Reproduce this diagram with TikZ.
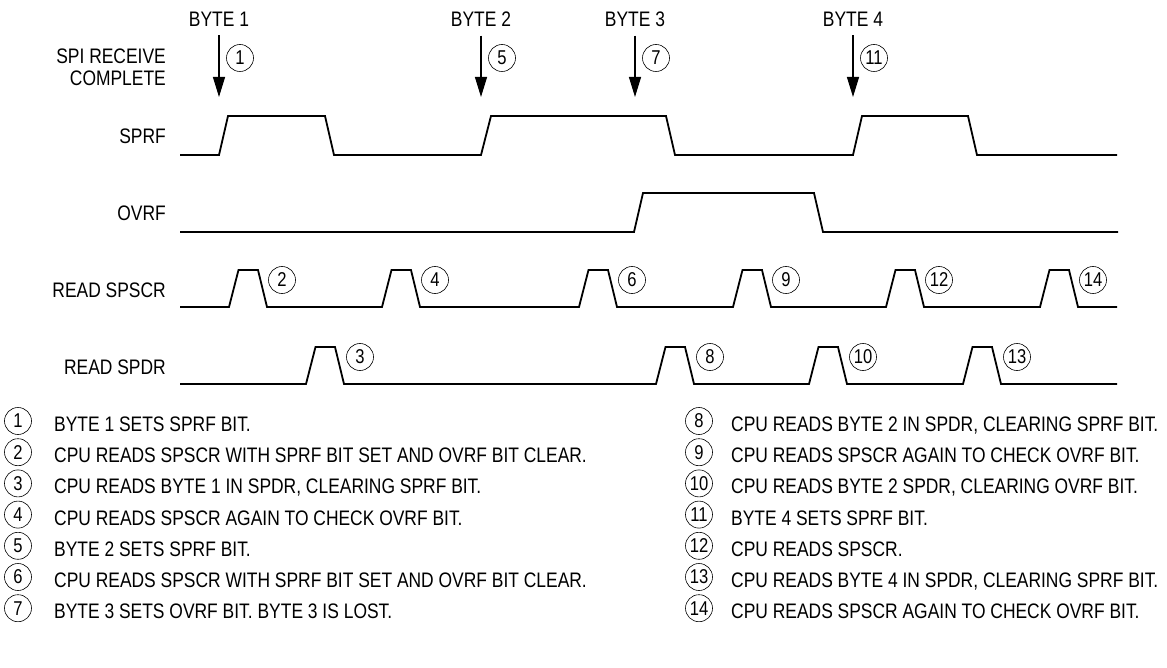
\documentclass[tikz,border=0pt]{standalone}
\usepackage{fontspec}
\setmainfont{Liberation Sans}
\newfontfamily\narrowfont[FakeStretch=0.83]{Liberation Sans}
\usetikzlibrary{arrows.meta}
\tikzset{
  sig/.style  = {line width=1.8pt, line join=miter},
  arr/.style  = {line width=1.2pt, -{Triangle[length=20pt,width=12pt]}, shorten <=9pt},
  num/.style  = {circle, draw, line width=0.6pt, minimum size=27pt, inner sep=0pt,
                 font=\narrowfont\fontsize{20}{22}\selectfont},
  lbl/.style  = {anchor=east, inner sep=0pt, align=right},
  note/.style = {anchor=base west, inner sep=0pt}
}

\begin{document}
\begin{tikzpicture}[x=1pt, y=-1pt, font=\narrowfont\fontsize{21}{22}\selectfont]
\useasboundingbox (0,0) rectangle (1167,668);
% row labels
\node[lbl] (spi)  at (166,67)  {SPI RECEIVE\\COMPLETE};
\node[lbl] (sprf) at (166,136) {SPRF};
\node[lbl] (ovrf) at (166,213) {OVRF};
\node[lbl] (rscr) at (166,290) {READ SPSCR};
\node[lbl] (rdr)  at (166,367) {READ SPDR};
% byte arrivals
\foreach \x/\b/\n in {219/1/1, 481/2/5, 635/3/7, 853/4/11}{
  \node[lbl, anchor=center] (byte\b) at (\x,19) {BYTE \b};
  \coordinate (tip\b) at (\x,97);
  \draw[arr] (byte\b.south) -- (tip\b);
  \node[num] (n\n) at (\x+21,58) {\n};
}
% waveforms
\draw[sig] (180,155) -- (219,155) -- (228,116) -- (325,116) -- (334,155) -- (481,155) -- (491,116)
  -- (666,116) -- (675,155) -- (853,155) -- (862,116) -- (968,116) -- (977,155) -- (1117,155);
\draw[sig] (180,232) -- (634,232) -- (643,193) -- (814,193) -- (823,232) -- (1118,232);
\draw[sig] (180,307) \foreach \x in {229,382,579,733,886,1040}{
  -- (\x,307) -- ++(9.5,-37) -- ++(19.5,0) -- ++(9,37)} -- (1117,307);
\draw[sig] (180,384) \foreach \x in {306,656,809,963}{
  -- (\x,384) -- ++(9.5,-37) -- ++(19.5,0) -- ++(9,37)} -- (1117,384);
\foreach \x/\n in {229/2, 382/4, 579/6, 733/9, 886/12, 1040/14}
  \node[num] (n\n) at (\x+53,280) {\n};
\foreach \x/\n in {306/3, 656/8, 809/10, 963/13}
  \node[num] (n\n) at (\x+54,357) {\n};
% legend, left column
\foreach \n/\t in {1/{BYTE 1 SETS SPRF BIT.},
                   2/{CPU READS SPSCR WITH SPRF BIT SET AND OVRF BIT CLEAR.},
                   3/{CPU READS BYTE 1 IN SPDR, CLEARING SPRF BIT.},
                   4/{CPU READS SPSCR AGAIN TO CHECK OVRF BIT.},
                   5/{BYTE 2 SETS SPRF BIT.},
                   6/{CPU READS SPSCR WITH SPRF BIT SET AND OVRF BIT CLEAR.},
                   7/{BYTE 3 SETS OVRF BIT. BYTE 3 IS LOST.}}{
  \node[num] (k\n) at (18,{421+31.2*(\n-1)}) {\n};
  \node[note] (t\n) at (54,{431.5+31.2*(\n-1)}) {\t};
}
% legend, right column
\foreach \n/\t in {8/{CPU READS BYTE 2 IN SPDR, CLEARING SPRF BIT.},
                   9/{CPU READS SPSCR AGAIN TO CHECK OVRF BIT.},
                   10/{CPU READS BYTE 2 SPDR, CLEARING OVRF BIT.},
                   11/{BYTE 4 SETS SPRF BIT.},
                   12/{CPU READS SPSCR.},
                   13/{CPU READS BYTE 4 IN SPDR, CLEARING SPRF BIT.},
                   14/{CPU READS SPSCR AGAIN TO CHECK OVRF BIT.}}{
  \node[num] (k\n) at (699,{421+31.2*(\n-8)}) {\n};
  \node[note] (t\n) at (731,{431.5+31.2*(\n-8)}) {\t};
}
\end{tikzpicture}
\end{document}
